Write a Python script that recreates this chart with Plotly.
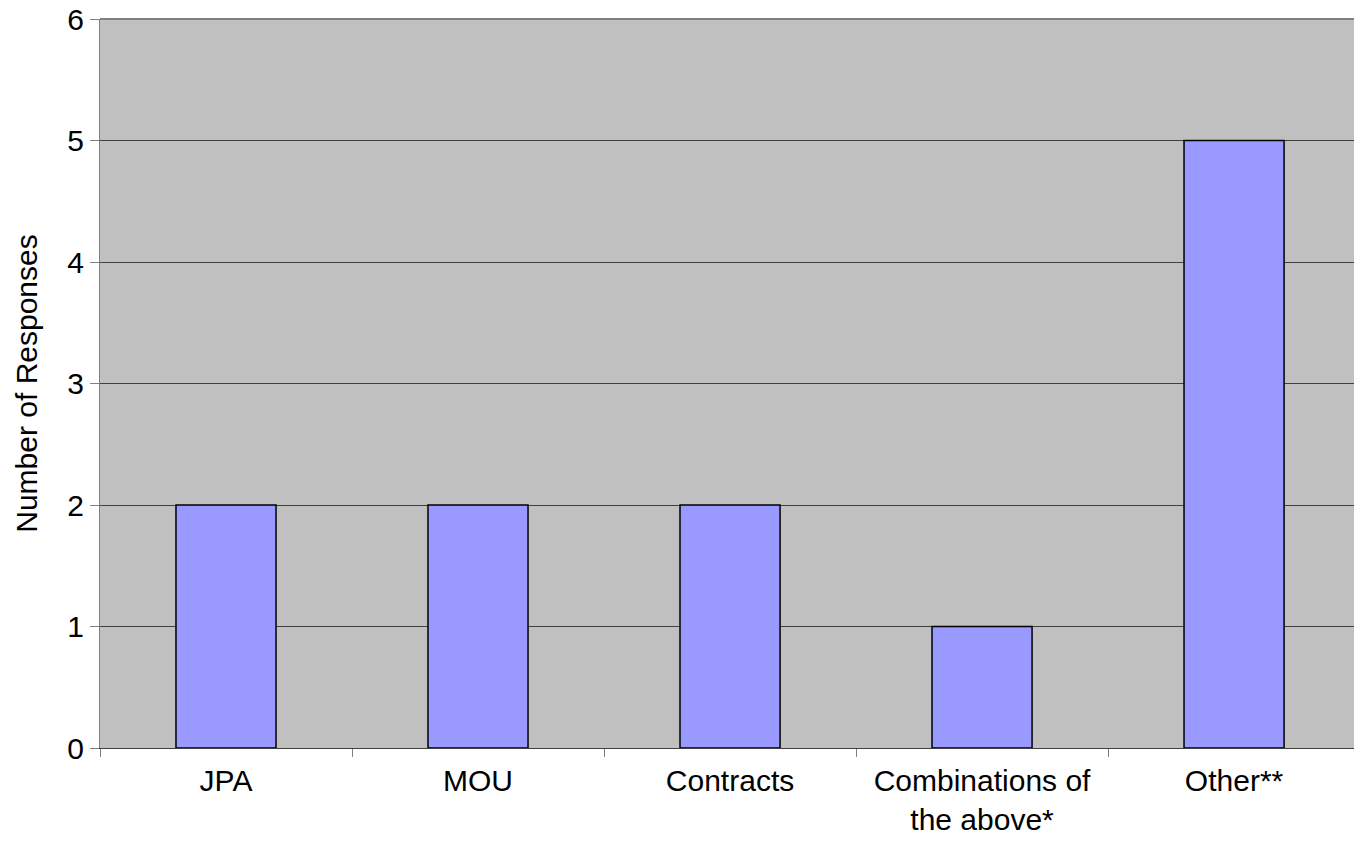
import plotly.graph_objects as go

categories = ["JPA", "MOU", "Contracts", "Combinations of<br>the above*", "Other**"]
responses = [2, 2, 2, 1, 5]
y_ticks = [0, 1, 2, 3, 4, 5, 6]

fig = go.Figure()
fig.add_trace(go.Bar(
    x=categories, y=responses,
    marker=dict(color="#9999FF", line=dict(color="#000000", width=1.5)),
))

fig.update_layout(
    width=1354, height=847,
    margin=dict(l=100, r=0, t=19, b=99, autoexpand=False),
    paper_bgcolor="white",
    plot_bgcolor="#C0C0C0",
    bargap=0.603,
    showlegend=False,
    font=dict(family="Liberation Sans, Arial, sans-serif", size=30, color="black"),
)
fig.update_xaxes(
    type="category",
    range=[-0.5, 4.476],
    tickson="boundaries",
    ticks="outside", ticklen=8, tickcolor="#808080",
    showline=True, linecolor="#404040", linewidth=1,
    showgrid=False,
    tickfont=dict(size=30),
    ticklabelstandoff=6,
    ticklabeloverflow="allow",
)
fig.update_yaxes(
    range=[0, 6], tickvals=y_ticks,
    ticks="outside", ticklen=9, tickcolor="#808080",
    showline=True, linecolor="#808080", linewidth=1,
    showgrid=True, gridcolor="#404040", gridwidth=1,
    zeroline=False,
    title=dict(text="Number of Responses", font=dict(size=30), standoff=20),
    tickfont=dict(size=30),
    ticklabeloverflow="allow",
)
fig.add_shape(type="line", xref="paper", yref="paper", x0=0, x1=1, y0=1, y1=1,
              line=dict(color="#808080", width=2))
fig.write_html("out.html", config={"displayModeBar": False},
               post_script="document.body.style.margin='0';")
